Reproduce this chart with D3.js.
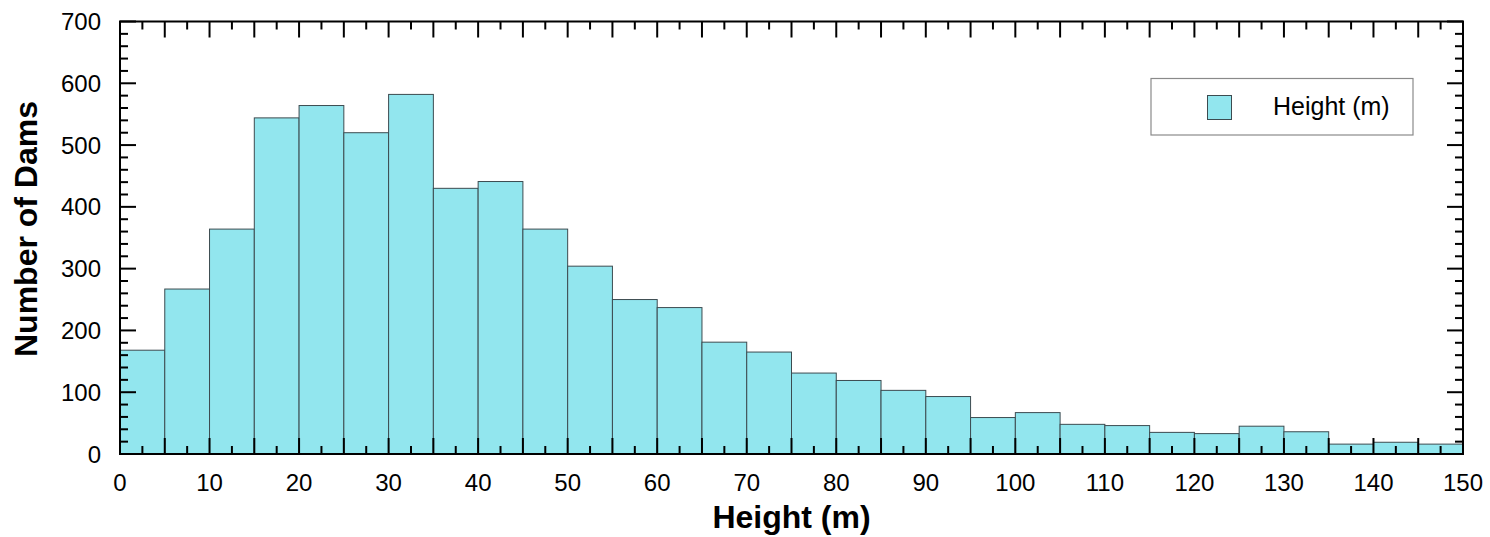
<!DOCTYPE html>
<html>
<head>
<meta charset="utf-8">
<script src="https://cdn.jsdelivr.net/npm/d3@7"></script>
<style>
  html, body { margin: 0; padding: 0; background: #fff; }
  svg { display: block; font-family: "Liberation Sans", Arial, Helvetica, sans-serif; }
</style>
</head>
<body>
<svg id="chart" width="1490" height="537"></svg>
<script>
// Histogram bins (m) and counts
const binStarts = [0,5,10,15,20,25,30,35,40,45,50,55,60,65,70,75,80,85,90,95,100,105,110,115,120,125,130,135,140,145];
const binWidth = 5;
const counts = [168,267,364,544,564,520,582,430,441,364,304,250,237,181,165,131,119,103,93,59,67,48,46,35,33,45,36,16,19,16];
const xTickLabels = [0,10,20,30,40,50,60,70,80,90,100,110,120,130,140,150];
const yTickLabels = [0,100,200,300,400,500,600,700];
const seriesName = "Height (m)";
const xTitle = "Height (m)";
const yTitle = "Number of Dams";

const svg = d3.select("#chart");
const L = 120, R = 1463, T = 21.5, B = 454;

const x = d3.scaleLinear().domain([0, 150]).range([L, R]);
const y = d3.scaleLinear().domain([0, 700]).range([B, T]);

const fill = "#92e6ee";

// Bars
svg.append("g").selectAll("rect").data(binStarts).join("rect")
  .attr("x", (d) => x(d))
  .attr("width", (d) => x(d + binWidth) - x(d))
  .attr("y", (d, i) => y(counts[i]))
  .attr("height", (d, i) => y(0) - y(counts[i]))
  .attr("fill", fill)
  .attr("stroke", "#3c4b50")
  .attr("stroke-width", 1);

// Ticks (inward, all four sides)
const xMajor = d3.range(0, 150.001, 5);
const xMinor = d3.range(2.5, 150, 5);
const yMajor = d3.range(0, 700.001, 100);
const yMinor = d3.range(0, 700.001, 20).filter(v => v % 100 !== 0);
const majLen = 16, minLen = 8;

function tickGroup(g, scale, vals, len, side) {
  g.selectAll(null).data(vals).join("line")
    .attr("x1", d => side === "bottom" || side === "top" ? scale(d) : (side === "left" ? L : R))
    .attr("x2", d => side === "bottom" || side === "top" ? scale(d) : (side === "left" ? L + len : R - len))
    .attr("y1", d => side === "left" || side === "right" ? scale(d) : (side === "bottom" ? B : T))
    .attr("y2", d => side === "left" || side === "right" ? scale(d) : (side === "bottom" ? B - len : T + len))
    .attr("stroke", "#000")
    .attr("stroke-width", 2);
}
const tg = svg.append("g");
tickGroup(tg, x, xMajor, majLen, "bottom");
tickGroup(tg, x, xMinor, minLen, "bottom");
tickGroup(tg, x, xMajor, majLen, "top");
tickGroup(tg, x, xMinor, minLen, "top");
tickGroup(tg, y, yMajor, majLen, "left");
tickGroup(tg, y, yMinor, minLen, "left");
tickGroup(tg, y, yMajor, majLen, "right");
tickGroup(tg, y, yMinor, minLen, "right");

// Frame
svg.append("rect")
  .attr("x", L).attr("y", T).attr("width", R - L).attr("height", B - T)
  .attr("fill", "none").attr("stroke", "#000").attr("stroke-width", 2);

// Tick labels
svg.append("g").selectAll("text").data(xTickLabels).join("text")
  .attr("x", d => x(d)).attr("y", 491)
  .attr("text-anchor", "middle")
  .attr("font-size", 24)
  .attr("fill", "#000")
  .text(d => d);

svg.append("g").selectAll("text").data(yTickLabels).join("text")
  .attr("x", 101).attr("y", d => y(d))
  .attr("dy", "0.36em")
  .attr("text-anchor", "end")
  .attr("font-size", 24)
  .attr("fill", "#000")
  .text(d => d);

// Axis titles
svg.append("text")
  .attr("x", (L + R) / 2).attr("y", 528)
  .attr("text-anchor", "middle")
  .attr("font-size", 32).attr("font-weight", "bold")
  .text(xTitle);

svg.append("text")
  .attr("transform", "translate(37,229) rotate(-90)")
  .attr("text-anchor", "middle")
  .attr("font-size", 32).attr("font-weight", "bold")
  .text(yTitle);

// Legend
const lg = svg.append("g");
lg.append("rect").attr("x", 1151).attr("y", 78.5).attr("width", 262).attr("height", 56.5)
  .attr("fill", "#fff").attr("stroke", "#8a8a8a").attr("stroke-width", 1.2);
lg.append("rect").attr("x", 1207.5).attr("y", 95.5).attr("width", 24).attr("height", 24)
  .attr("fill", fill).attr("stroke", "#3c4b50").attr("stroke-width", 1);
lg.append("text").attr("x", 1273).attr("y", 115)
  .attr("font-size", 25).attr("fill", "#000")
  .text(seriesName);
</script>
</body>
</html>
